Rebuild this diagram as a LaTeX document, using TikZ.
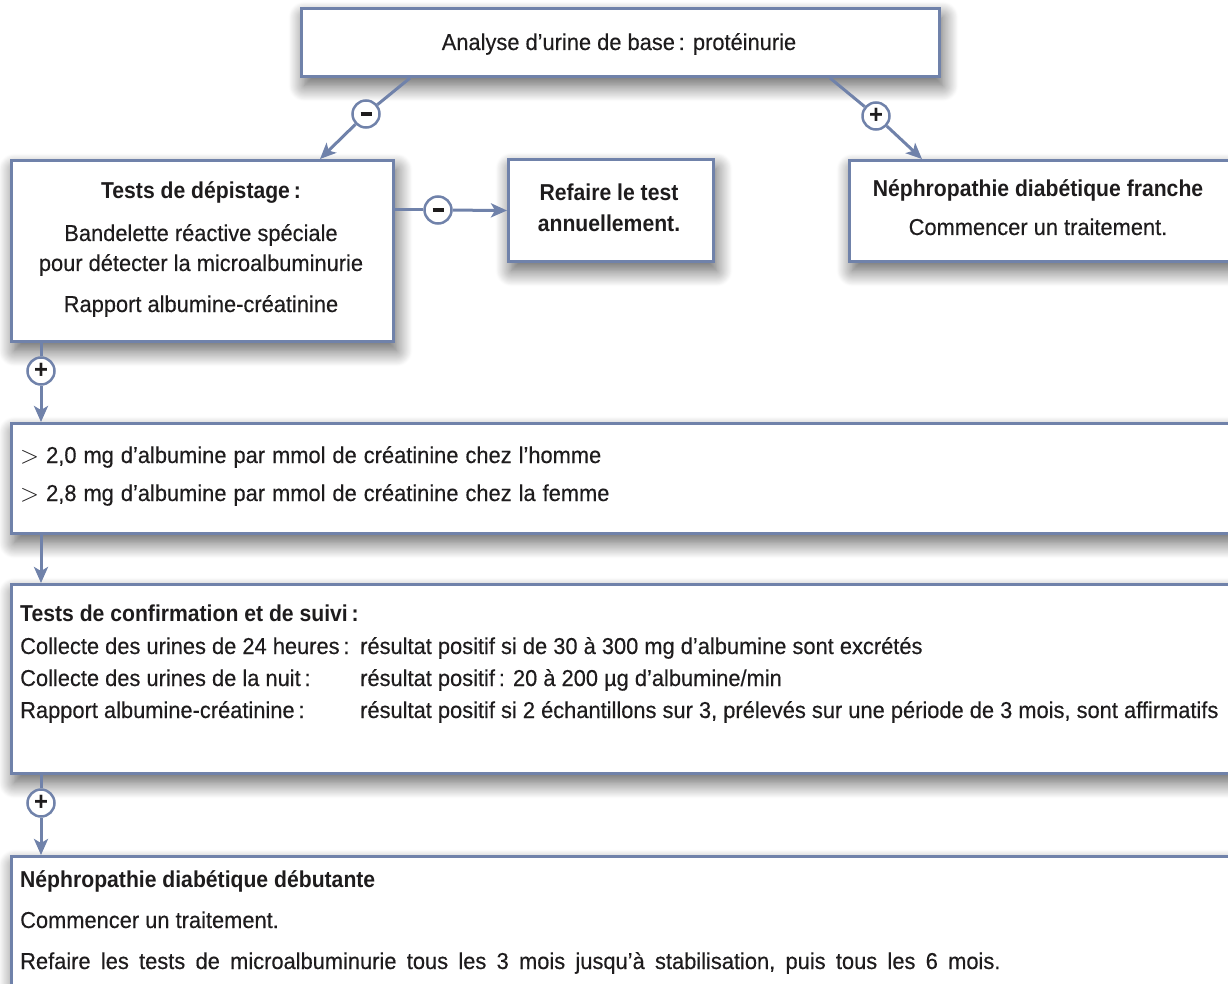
\documentclass[tikz,border=0pt]{standalone}
\usepackage{fontspec}
\setmainfont{Liberation Sans}[FakeStretch=0.95, UprightFeatures={FakeBold=0.35}, BoldFeatures={FakeStretch=0.92}]
\usetikzlibrary{arrows.meta,shadows.blur}
\definecolor{bord}{RGB}{112,130,170}
\definecolor{ink}{RGB}{30,28,29}
\begin{document}
\begin{tikzpicture}[x=1pt,y=-1pt,
  box/.style={draw=bord, line width=3pt, fill=white, anchor=north west, inner sep=0pt,
    blur shadow={shadow xshift=3pt,shadow yshift=-9pt,shadow blur radius=16pt,shadow blur steps=20,shadow opacity=65}},
  txt/.style={text=ink, font=\fontsize{23}{28}\selectfont, inner sep=0pt},
  sign/.style={circle, draw=bord, line width=2.5pt, fill=white, minimum size=27pt, inner sep=0pt, text=ink, font=\bfseries\fontsize{26}{26}\selectfont},
  conn/.style={draw=bord, line width=3pt},
  arr/.style={conn, -{Stealth[length=16pt,width=14pt,inset=4pt]}}
]
\useasboundingbox (0,0) rectangle (1228,984);
% boxes
\node[box, minimum width=638pt, minimum height=68pt] (top) at (300,7) {};
\node[box, minimum width=382pt, minimum height=181pt] (tests) at (10,159) {};
\node[box, minimum width=205pt, minimum height=102pt] (refaire) at (507,158) {};
\node[box, minimum width=420pt, minimum height=101pt] (franche) at (848,159) {};
\node[box, minimum width=1250pt, minimum height=110pt] (b2) at (10,422) {};
\node[box, minimum width=1250pt, minimum height=189pt] (b3) at (10,583) {};
\node[box, minimum width=1250pt, minimum height=160pt] (b4) at (10,855) {};
% texts
\node[txt, anchor=base] (t0) at (619,50) {Analyse d’urine de base\,: protéinurie};
\node[txt, anchor=base] (t1) at (201,199) {\bfseries Tests de dépistage\,:};
\node[txt, anchor=base] (t2) at (201,241) {Bandelette réactive spéciale};
\node[txt, anchor=base] (t3) at (201,271) {pour détecter la microalbuminurie};
\node[txt, anchor=base] (t4) at (201,312) {Rapport albumine-créatinine};
\node[txt, anchor=base] (r1) at (609,201) {\bfseries Refaire le test};
\node[txt, anchor=base] (r2) at (609,232) {\bfseries annuellement.};
\node[txt, anchor=base] (f1) at (1038,197) {\bfseries Néphropathie diabétique franche};
\node[txt, anchor=base] (f2) at (1038,235) {Commencer un traitement.};
\node[txt, anchor=base west] (a1) at (20,463) {{\spaceskip=7pt $>$ 2,0 mg d’albumine par mmol de créatinine chez l’homme}};
\node[txt, anchor=base west] (a2) at (20,501) {{\spaceskip=7pt $>$ 2,8 mg d’albumine par mmol de créatinine chez la femme}};
\node[txt, anchor=base west] (c0) at (20,621) {\bfseries Tests de confirmation et de suivi\,:};
\node[txt, anchor=base west] (c1) at (20,654) {Collecte des urines de 24 heures\,:};
\node[txt, anchor=base west] (c2) at (20,686) {Collecte des urines de la nuit\,:};
\node[txt, anchor=base west] (c3) at (20,718) {Rapport albumine-créatinine\,:};
\node[txt, anchor=base west] (d1) at (360,654) {résultat positif si de 30 à 300 mg d’albumine sont excrétés};
\node[txt, anchor=base west] (d2) at (360,686) {résultat positif\,: 20 à 200 µg d’albumine/min};
\node[txt, anchor=base west] (d3) at (360,718) {résultat positif si 2 échantillons sur 3, prélevés sur une période de 3 mois, sont affirmatifs};
\node[txt, anchor=base west] (e1) at (20,887) {\bfseries Néphropathie diabétique débutante};
\node[txt, anchor=base west] (e2) at (20,928) {Commencer un traitement.};
\node[txt, anchor=base west] (e3) at (20,969) {{\spaceskip=10.3pt Refaire les tests de microalbuminurie tous les 3 mois jusqu’à stabilisation, puis tous les 6 mois.}};
% signs
\node[sign] (m1) at (366,114) {\rule{11pt}{3.5pt}};
\node[sign] (p1) at (876,116) {\raisebox{-1.5pt}{+}};
\node[sign] (m2) at (438,210) {\rule{11pt}{3.5pt}};
\node[sign] (p2) at (41,371) {\raisebox{-1.5pt}{+}};
\node[sign] (p3) at (41,803) {\raisebox{-1.5pt}{+}};
% connectors
\draw[conn] ([xshift=110pt]top.south west) -- (m1);
\draw[arr] (m1) -- ([xshift=310pt]tests.north west);
\draw[conn] ([xshift=530pt]top.south west) -- (p1);
\draw[arr] (p1) -- ([xshift=74pt]franche.north west);
\draw[conn] ([yshift=-51pt]tests.north east) -- (m2);
\draw[arr] (m2) -- (refaire.west);
\draw[conn] ([xshift=31pt]tests.south west) -- (p2);
\draw[arr] (p2) -- ([xshift=31pt]b2.north west);
\draw[arr] ([xshift=31pt]b2.south west) -- ([xshift=31pt]b3.north west);
\draw[conn] ([xshift=31pt]b3.south west) -- (p3);
\draw[arr] (p3) -- ([xshift=31pt]b4.north west);
\end{tikzpicture}
\end{document}
